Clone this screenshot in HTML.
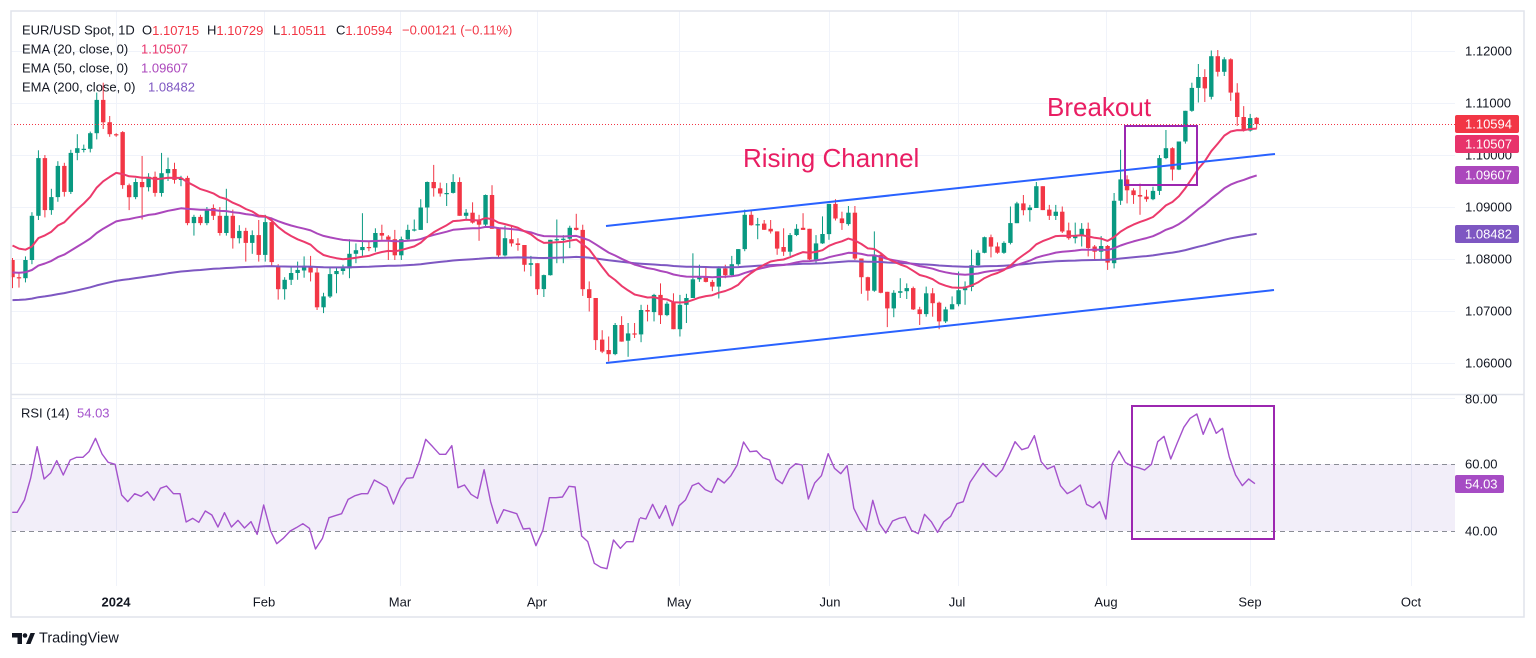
<!DOCTYPE html>
<html><head><meta charset="utf-8">
<style>
html,body{margin:0;padding:0;background:#fff;}
svg{display:block;font-family:"Liberation Sans",sans-serif;}
</style></head>
<body>
<svg id="c" width="1536" height="658" viewBox="0 0 1536 658" xmlns="http://www.w3.org/2000/svg">
<rect x="0" y="0" width="1536" height="658" fill="#fff"/>
<defs>
<clipPath id="mp"><rect x="11" y="11" width="1444" height="383"/></clipPath>
<clipPath id="rp"><rect x="11" y="395" width="1444" height="192"/></clipPath>
</defs>
<g id="grid" stroke="#f0f3fa" stroke-width="1">
</g>
<!-- RSI band -->
<rect x="11" y="464" width="1444" height="67" fill="rgba(126,87,194,0.1)"/>
<line x1="11" x2="1455" y1="464.5" y2="464.5" stroke="#8a8d96" stroke-dasharray="5,4" stroke-width="1"/>
<line x1="11" x2="1455" y1="531.5" y2="531.5" stroke="#8a8d96" stroke-dasharray="5,4" stroke-width="1"/>
<g id="main" clip-path="url(#mp)"></g>
<g clip-path="url(#rp)">
<g transform="translate(0,395) scale(0.408163,0.333333)">
<polyline fill="none" stroke="#a452cc" stroke-width="1.4" vector-effect="non-scaling-stroke" stroke-linejoin="round" points="30,352 42,352 60,315 75,250 91,155 108,252 124,234 139,197 155,240 172,195 187,187 203,187 218,170 234,130 250,177 265,202 282,208 298,300 313,320 330,296 346,304 361,290 377,316 393,280 408,273 425,296 441,296 456,381 472,370 487,382 503,348 519,360 534,396 550,353 567,396 583,376 599,399 615,380 630,418 646,330 663,408 678,446 694,430 711,408 726,398 742,386 758,400 773,462 790,430 806,368 821,362 837,356 853,313 870,302 886,296 901,296 917,255 932,265 948,277 964,327 980,280 996,250 1012,248 1028,198 1043,133 1060,155 1077,178 1092,178 1107,152 1122,278 1138,270 1154,298 1170,310 1186,224 1202,320 1218,385 1234,344 1250,350 1266,356 1282,402 1298,400 1313,452 1330,406 1346,308 1362,308 1378,306 1394,274 1409,276 1425,423 1440,440 1456,505 1472,517 1487,521 1503,435 1520,460 1535,440 1551,440 1567,370"/>
</g>
<g transform="translate(640,395) scale(0.420909,0.333333)">
<polyline fill="none" stroke="#a452cc" stroke-width="1.4" vector-effect="non-scaling-stroke" stroke-linejoin="round" points="0,368 14,372 30,328 46,370 61,332 77,392 93,332 108,315 124,272 139,264 155,284 170,292 185,250 200,264 216,242 231,210 246,141 261,170 277,168 292,188 308,195 323,252 338,266 355,222 370,206 385,210 400,312 415,264 431,242 447,176 462,220 477,236 492,212 508,340 523,378 538,406 553,316 569,386 584,414 600,378 615,370 630,366 645,406 661,416 676,358 692,380 707,412 722,380 738,364 753,326 768,320 784,262 800,232 815,205 830,228 846,245 861,224 876,184 891,140 907,164 922,158 937,122 953,200 968,222 984,213 999,272 1015,296 1030,286 1046,270 1061,328 1076,338 1092,320 1107,372 1122,205 1138,168 1153,202 1168,213 1184,218 1199,225 1215,208 1230,140 1245,124 1261,192 1276,145 1292,97 1307,70 1323,57 1338,118 1354,70 1369,115 1384,100 1400,186 1415,240 1431,272 1446,252 1461,266"/>
</g>
</g>
<!-- annotations -->
<g clip-path="url(#mp)">
<line x1="606" y1="226" x2="1275" y2="154" stroke="#2962ff" stroke-width="2"/>
<line x1="606" y1="363" x2="1274" y2="290" stroke="#2962ff" stroke-width="2"/>
<rect x="1125" y="126" width="72" height="59" fill="none" stroke="#9c27b0" stroke-width="2"/>
<line x1="11" x2="1455" y1="124.5" y2="124.5" stroke="#f23645" stroke-width="1" stroke-dasharray="1,2"/>
</g>
<text x="743" y="167" font-size="26" fill="#e91e63">Rising Channel</text>
<text x="1047" y="116" font-size="26" fill="#e91e63">Breakout</text>
<rect x="1132" y="406" width="142" height="133" fill="none" stroke="#9c27b0" stroke-width="2"/>

<!-- borders -->
<rect x="11" y="11" width="1513" height="606" fill="none" stroke="#e0e3eb" stroke-width="1.5"/>
<line x1="11" x2="1524" y1="394.5" y2="394.5" stroke="#e0e3eb" stroke-width="1.5"/>

<!-- price axis -->
<g font-size="13" fill="#131722" dominant-baseline="central">
<text x="1465" y="51">1.12000</text>
<text x="1465" y="103">1.11000</text>
<text x="1465" y="155">1.10000</text>
<text x="1465" y="207">1.09000</text>
<text x="1465" y="259">1.08000</text>
<text x="1465" y="311">1.07000</text>
<text x="1465" y="363">1.06000</text>
<text x="1465" y="399">80.00</text>
<text x="1465" y="464">60.00</text>
<text x="1465" y="531">40.00</text>
</g>
<g font-size="13" fill="#fff" dominant-baseline="central">
<rect x="1455" y="115" width="64" height="18" rx="2" fill="#f23645"/>
<text x="1465" y="124">1.10594</text>
<rect x="1455" y="135" width="64" height="18" rx="2" fill="#e8336b"/>
<text x="1465" y="144">1.10507</text>
<rect x="1455" y="166" width="64" height="18" rx="2" fill="#ab47bc"/>
<text x="1465" y="175">1.09607</text>
<rect x="1455" y="225" width="64" height="18" rx="2" fill="#7e57c2"/>
<text x="1465" y="234">1.08482</text>
<rect x="1455" y="475" width="49" height="18" rx="2" fill="#a64cc4"/>
<text x="1465" y="484">54.03</text>
</g>

<!-- time axis -->
<g font-size="13" fill="#131722" text-anchor="middle" dominant-baseline="central">
<text x="116" y="602" font-weight="bold">2024</text>
<text x="264" y="602">Feb</text>
<text x="400" y="602">Mar</text>
<text x="537" y="602">Apr</text>
<text x="679" y="602">May</text>
<text x="830" y="602">Jun</text>
<text x="957" y="602">Jul</text>
<text x="1106" y="602">Aug</text>
<text x="1250" y="602">Sep</text>
<text x="1411" y="602">Oct</text>
</g>

<!-- legend -->
<g font-size="13" dominant-baseline="central" fill="#131722">
<text x="22" y="30">EUR/USD Spot, 1D</text>
<text x="142" y="30">O<tspan fill="#f23645">1.10715</tspan></text>
<text x="207" y="30">H<tspan fill="#f23645">1.10729</tspan></text>
<text x="273" y="30">L<tspan fill="#f23645">1.10511</tspan></text>
<text x="336" y="30">C<tspan fill="#f23645">1.10594</tspan></text>
<text x="402" y="30" fill="#f23645">−0.00121 (−0.11%)</text>
<text x="22" y="49">EMA (20, close, 0)</text>
<text x="141" y="49" fill="#e8336b">1.10507</text>
<text x="22" y="68">EMA (50, close, 0)</text>
<text x="141" y="68" fill="#ab47bc">1.09607</text>
<text x="22" y="87">EMA (200, close, 0)</text>
<text x="148" y="87" fill="#7e57c2">1.08482</text>
<text x="21" y="413">RSI (14)</text>
<text x="77" y="413" fill="#a452cc">54.03</text>
</g>

<!-- logo -->
<g fill="#131722">
<path d="M12 633 h10 v11 h-4.5 v-6.5 h-5.5z"/>
<circle cx="25" cy="635.5" r="2.3"/>
<path d="M26 644 l4.5 -11 h4.5 l-4.5 11z"/>
</g>
<text x="39" y="638.5" font-size="14.5" fill="#131722" dominant-baseline="central">TradingView</text>
</svg>
<script>
(function(){
var NS="http://www.w3.org/2000/svg";
var D=[
[1.0798,1.0802,1.0744,1.0765],[1.0765,1.0775,1.0745,1.0763],[1.0763,1.0805,1.0755,1.0798],[1.0798,1.0890,1.0790,1.0883],
[1.0883,1.1009,1.0875,1.0994],[1.0994,1.1000,1.0880,1.0894],[1.0894,1.0935,1.0885,1.0919],[1.0919,1.0988,1.0910,1.0979],
[1.0979,1.0985,1.0920,1.0929],[1.0929,1.1010,1.0925,1.1004],[1.1004,1.1040,1.0990,1.1013],[1.1012,1.1020,1.1005,1.1012],
[1.1012,1.1045,1.1005,1.1042],[1.1042,1.1120,1.1030,1.1106],[1.1106,1.1139,1.1050,1.1063],[1.1063,1.1075,1.1035,1.1040],
[1.1040,1.1042,1.1035,1.1038],[1.1044,1.1046,1.0935,1.0942],[1.0942,1.0945,1.0894,1.0919],[1.0919,1.0955,1.0915,1.0948],
[1.0948,1.0998,1.0876,1.0938],[1.0938,1.0965,1.0930,1.0958],[1.0958,1.0968,1.0920,1.0927],[1.0927,1.1004,1.0920,1.0965],
[1.0965,1.0995,1.0950,1.0973],[1.0973,1.0985,1.0945,1.0952],[1.0952,1.0960,1.0940,1.0956],[1.0956,1.0960,1.0865,1.0869],
[1.0869,1.0885,1.0845,1.0881],[1.0881,1.0885,1.0865,1.0869],[1.0869,1.0900,1.0865,1.0894],[1.0898,1.0905,1.0875,1.0883],
[1.0883,1.0900,1.0845,1.0850],[1.0850,1.0935,1.0845,1.0883],[1.0883,1.0895,1.0820,1.0840],[1.0840,1.0865,1.0830,1.0854],
[1.0854,1.0860,1.0795,1.0831],[1.0831,1.0855,1.0810,1.0846],[1.0846,1.0875,1.0795,1.0808],[1.0808,1.0885,1.0795,1.0871],
[1.0871,1.0880,1.0785,1.0794],[1.0785,1.0790,1.0722,1.0742],[1.0742,1.0765,1.0722,1.0760],[1.0760,1.0785,1.0750,1.0773],
[1.0773,1.0795,1.0760,1.0779],[1.0778,1.0805,1.0764,1.0787],[1.0784,1.0806,1.0757,1.0774],[1.0774,1.0785,1.0702,1.0707],
[1.0707,1.0735,1.0696,1.0728],[1.0728,1.0785,1.0725,1.0771],[1.0771,1.0785,1.0734,1.0777],[1.0777,1.0789,1.0770,1.0782],
[1.0782,1.0838,1.0763,1.0810],[1.0810,1.0830,1.0792,1.0817],[1.0817,1.0888,1.0805,1.0823],[1.0823,1.0834,1.0815,1.0822],
[1.0822,1.0859,1.0814,1.0850],[1.0850,1.0866,1.0837,1.0845],[1.0843,1.0846,1.0798,1.0837],[1.0838,1.0856,1.0798,1.0807],
[1.0807,1.0843,1.0798,1.0838],[1.0838,1.0866,1.0837,1.0856],[1.0856,1.0876,1.0853,1.0857],[1.0856,1.0915,1.0856,1.0899],
[1.0899,1.0949,1.0869,1.0948],[1.0948,1.0981,1.0920,1.0936],[1.0936,1.0947,1.0920,1.0926],[1.0926,1.0946,1.0902,1.0927],
[1.0927,1.0963,1.0926,1.0948],[1.0948,1.0957,1.0883,1.0883],[1.0883,1.0896,1.0875,1.0889],[1.0889,1.0909,1.0868,1.0870],
[1.0876,1.0885,1.0835,1.0866],[1.0866,1.0924,1.0860,1.0923],[1.0923,1.0942,1.0858,1.0858],[1.0860,1.0861,1.0803,1.0807],
[1.0807,1.0864,1.0805,1.0840],[1.0838,1.0864,1.0824,1.0830],[1.0830,1.0840,1.0816,1.0827],[1.0827,1.0827,1.0776,1.0789],
[1.0789,1.0806,1.0767,1.0792],[1.0792,1.0792,1.0731,1.0742],[1.0742,1.0770,1.0727,1.0769],[1.0769,1.0837,1.0768,1.0837],
[1.0837,1.0876,1.0792,1.0838],[1.0838,1.0846,1.0792,1.0839],[1.0839,1.0864,1.0821,1.0860],[1.0860,1.0887,1.0855,1.0856],
[1.0856,1.0866,1.0729,1.0742],[1.0742,1.0757,1.0699,1.0725],[1.0725,1.0725,1.0625,1.0644],[1.0645,1.0663,1.0619,1.0622],
[1.0625,1.0651,1.0603,1.0617],[1.0617,1.0677,1.0615,1.0673],[1.0673,1.0690,1.0641,1.0641],[1.0643,1.0677,1.0612,1.0657],
[1.0657,1.0677,1.0648,1.0656],[1.0655,1.0712,1.0640,1.0702],[1.0702,1.0712,1.0680,1.0699],[1.0698,1.0733,1.0680,1.0731],
[1.0731,1.0753,1.0675,1.0692],[1.0692,1.0718,1.0690,1.0714],[1.0718,1.0734,1.0665,1.0665],[1.0665,1.0731,1.0651,1.0712],
[1.0712,1.0733,1.0677,1.0725],[1.0725,1.0811,1.0725,1.0761],[1.0761,1.0789,1.0756,1.0767],[1.0767,1.0786,1.0755,1.0756],
[1.0756,1.0760,1.0738,1.0747],[1.0747,1.0786,1.0724,1.0782],[1.0782,1.0789,1.0763,1.0769],[1.0769,1.0806,1.0767,1.0790],
[1.0790,1.0819,1.0787,1.0819],[1.0819,1.0895,1.0815,1.0885],[1.0885,1.0895,1.0864,1.0865],[1.0865,1.0879,1.0838,1.0867],
[1.0868,1.0875,1.0856,1.0856],[1.0858,1.0875,1.0849,1.0853],[1.0853,1.0853,1.0808,1.0820],[1.0823,1.0859,1.0806,1.0814],
[1.0814,1.0850,1.0806,1.0846],[1.0846,1.0867,1.0844,1.0858],[1.0860,1.0888,1.0856,1.0856],[1.0858,1.0858,1.0798,1.0799],
[1.0799,1.0846,1.0792,1.0830],[1.0830,1.0882,1.0829,1.0848],[1.0848,1.0906,1.0837,1.0906],[1.0906,1.0915,1.0874,1.0878],
[1.0878,1.0891,1.0856,1.0869],[1.0867,1.0902,1.0864,1.0889],[1.0889,1.0902,1.0798,1.0801],[1.0801,1.0801,1.0733,1.0765],
[1.0765,1.0766,1.0720,1.0739],[1.0739,1.0853,1.0737,1.0808],[1.0808,1.0811,1.0734,1.0735],[1.0737,1.0737,1.0669,1.0705],
[1.0705,1.0740,1.0688,1.0735],[1.0735,1.0763,1.0725,1.0738],[1.0738,1.0753,1.0723,1.0744],[1.0744,1.0747,1.0702,1.0703],
[1.0703,1.0708,1.0673,1.0694],[1.0694,1.0747,1.0689,1.0734],[1.0734,1.0744,1.0689,1.0715],[1.0716,1.0718,1.0665,1.0680],
[1.0680,1.0708,1.0677,1.0703],[1.0703,1.0728,1.0703,1.0713],[1.0713,1.0776,1.0709,1.0740],[1.0740,1.0757,1.0712,1.0747],
[1.0746,1.0818,1.0738,1.0788],[1.0788,1.0817,1.0785,1.0812],[1.0812,1.0843,1.0811,1.0842],[1.0842,1.0847,1.0803,1.0824],
[1.0824,1.0832,1.0810,1.0812],[1.0812,1.0834,1.0810,1.0831],[1.0831,1.0901,1.0828,1.0869],[1.0869,1.0910,1.0869,1.0907],
[1.0907,1.0923,1.0884,1.0894],[1.0894,1.0904,1.0872,1.0899],[1.0898,1.0948,1.0898,1.0940],[1.0940,1.0940,1.0894,1.0894],
[1.0895,1.0904,1.0875,1.0883],[1.0883,1.0904,1.0875,1.0891],[1.0891,1.0901,1.0850,1.0853],[1.0855,1.0870,1.0837,1.0840],
[1.0840,1.0870,1.0830,1.0846],[1.0846,1.0869,1.0824,1.0858],[1.0858,1.0870,1.0805,1.0821],[1.0824,1.0827,1.0798,1.0814],
[1.0814,1.0844,1.0798,1.0825],[1.0825,1.0827,1.0779,1.0793],[1.0792,1.0927,1.0782,1.0912],[1.0912,1.1010,1.0904,1.0953],
[1.0953,1.0961,1.0907,1.0932],[1.0932,1.0936,1.0906,1.0923],[1.0923,1.0945,1.0885,1.0920],[1.0920,1.0933,1.0910,1.0915],
[1.0915,1.0939,1.0913,1.0931],[1.0931,1.1000,1.0923,1.0994],[1.0994,1.1048,1.0992,1.1013],[1.1013,1.1015,1.0951,1.0972],
[1.0972,1.1026,1.0971,1.1026],[1.1026,1.1085,1.1022,1.1085],[1.1085,1.1139,1.1083,1.1129],[1.1129,1.1175,1.1101,1.1150],
[1.1150,1.1165,1.1102,1.1128],[1.1112,1.1201,1.1107,1.1190],[1.1190,1.1202,1.1151,1.1160],[1.1160,1.1188,1.1152,1.1184],
[1.1184,1.1186,1.1104,1.1120],[1.1120,1.1138,1.1056,1.1073],[1.1073,1.1094,1.1045,1.1047],[1.1047,1.1079,1.1045,1.1071],
[1.10715,1.10729,1.10511,1.10594]
];
var X0=12.5,DX=6.48;
function Y(p){return 51+(1.12-p)*5200;}
function el(tag,attrs,parent){var e=document.createElementNS(NS,tag);for(var k in attrs)e.setAttribute(k,attrs[k]);parent.appendChild(e);return e;}
// grid
var g=document.getElementById('grid');
[51,103,155,207,259,311,363].forEach(function(y){el('line',{x1:11,x2:1455,y1:y+0.5,y2:y+0.5},g);});
el('line',{x1:11,x2:1455,y1:398.5,y2:398.5},g);
[116,264,400,537,679,829,958,1106,1250,1411].forEach(function(x){
 el('line',{x1:x+0.5,x2:x+0.5,y1:11,y2:394},g);
 el('line',{x1:x+0.5,x2:x+0.5,y1:395,y2:586},g);
});
var m=document.getElementById('main');
// EMAs
function ema(n,seed){var a=2/(n+1),v=seed,out=[];for(var i=0;i<D.length;i++){if(i>0)v=v+a*(D[i][3]-v);out.push(v);}return out;}
var e20=ema(20,1.0826),e50=ema(50,1.0774),e200=ema(200,1.0721);
function pl(arr,col){var pts=arr.map(function(v,i){return (X0+DX*i).toFixed(1)+','+Y(v).toFixed(1);}).join(' ');
 el('polyline',{points:pts,fill:'none',stroke:col,'stroke-width':2,'stroke-linejoin':'round'},m);}
// candles
D.forEach(function(d,i){
 var x=X0+DX*i,o=d[0],h=d[1],l=d[2],c=d[3];
 var col=c>=o?'#089981':'#f23645';
 el('line',{x1:x.toFixed(2),x2:x.toFixed(2),y1:Y(h).toFixed(1),y2:Y(l).toFixed(1),stroke:col,'stroke-width':1},m);
 var t=Y(Math.max(o,c)),b=Y(Math.min(o,c));var hh=Math.max(b-t,1.2);
 el('rect',{x:(x-2.2).toFixed(2),y:t.toFixed(1),width:4.4,height:hh.toFixed(1),fill:col},m);
});
pl(e200,'#7e57c2');
pl(e50,'#ab47bc');
pl(e20,'#ec3a6c');
})();
</script>
</body></html>
